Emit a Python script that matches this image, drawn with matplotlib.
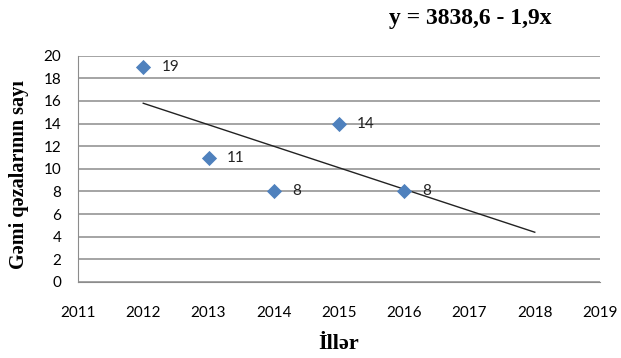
import numpy as np
import matplotlib.pyplot as plt

years = [2012, 2013, 2014, 2015, 2016]
accidents = [19, 11, 8, 14, 8]

# linear trend y = a + b*x, extended two years ahead
trend_a = 3838.6
trend_b = -1.9
trend_years = [2012, 2018]

tick_font = 'Lato'
serif_font = 'Liberation Serif'

fig = plt.figure(figsize=(6.21, 3.58), dpi=100)
ax = fig.add_axes([0.1256, 0.2123, 0.8406, 0.632])

ax.scatter(years, accidents, marker='D', s=60, color='#4F81BD', zorder=3, linewidths=0)
for x, y in zip(years, accidents):
    ax.annotate(str(y), (x, y), xytext=(13, 0), textcoords='offset points',
                va='center', ha='left', fontsize=11, family=tick_font, color='#222222')

tx = np.array(trend_years, dtype=float)
ax.plot(tx, trend_a + trend_b * tx, color='#222222', lw=1.0, zorder=2)

ax.set_xlim(2011, 2019)
ax.set_ylim(0, 20)
ax.set_xticks(range(2011, 2020))
ax.set_yticks(range(0, 21, 2))
ax.grid(axis='y', color='#8c8c8c', lw=1.1)
ax.set_axisbelow(True)
for side in ['top', 'right']:
    ax.spines[side].set_visible(False)
for side in ['left', 'bottom']:
    ax.spines[side].set_color('#8c8c8c')
ax.tick_params(length=0, labelsize=11)
ax.tick_params(axis='y', pad=12)
ax.tick_params(axis='x', pad=17)
for lab in ax.get_xticklabels() + ax.get_yticklabels():
    lab.set_family(tick_font)

fig.text(0.758, 0.948, 'y = 3838,6 - 1,9x', ha='center', va='center',
         fontsize=17, fontweight='bold', family=serif_font)
fig.text(0.031, 0.511, 'Gəmi qəzalarının sayı', rotation=90, ha='center', va='center',
         fontsize=14.5, fontweight='bold', family=serif_font)
fig.text(0.546, 0.04, 'İllər', ha='center', va='center',
         fontsize=16, fontweight='bold', family=serif_font)

fig.savefig('out.png', dpi=100)
